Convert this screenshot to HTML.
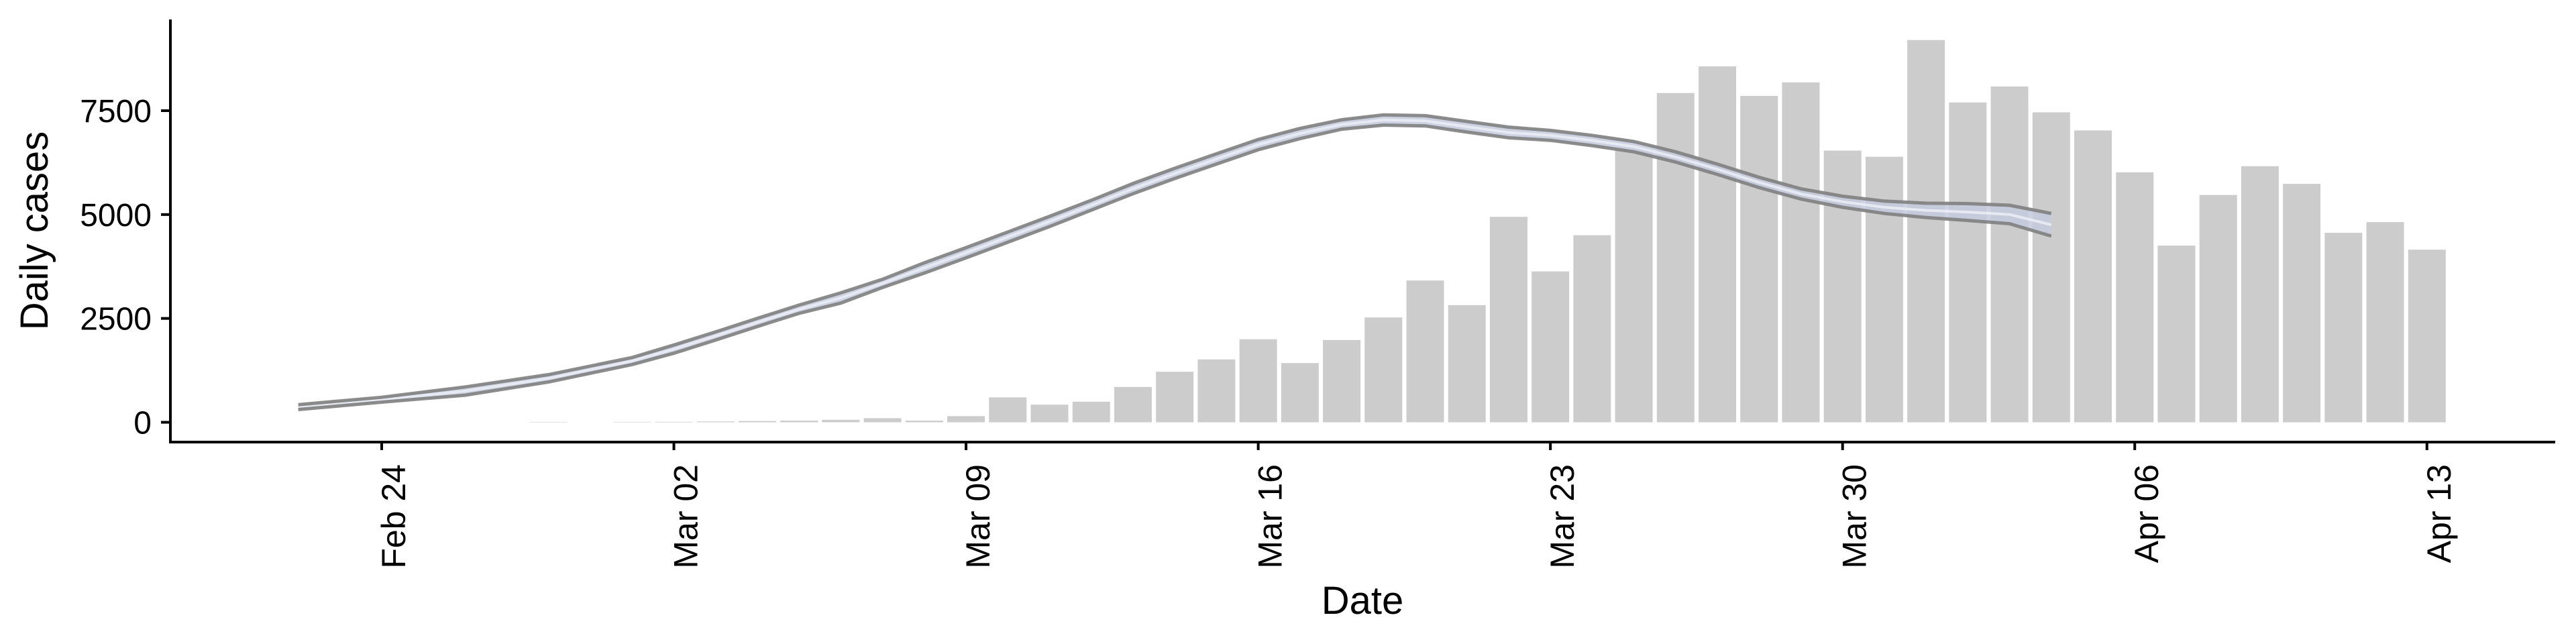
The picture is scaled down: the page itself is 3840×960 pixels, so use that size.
<!DOCTYPE html>
<html><head><meta charset="utf-8"><style>
html,body{margin:0;padding:0;background:#fff;}
svg{display:block;font-family:"Liberation Sans",sans-serif;}
</style></head><body>
<svg id="chart" width="3840" height="960" viewBox="0 0 3840 960" xmlns="http://www.w3.org/2000/svg">
<g id="bars"></g>
<g id="band"></g>
<g id="axes"></g>
</svg>
<script>
const barDates = ["2020-02-28","2020-02-29","2020-03-01","2020-03-02","2020-03-03","2020-03-04","2020-03-05","2020-03-06","2020-03-07","2020-03-08","2020-03-09","2020-03-10","2020-03-11","2020-03-12","2020-03-13","2020-03-14","2020-03-15","2020-03-16","2020-03-17","2020-03-18","2020-03-19","2020-03-20","2020-03-21","2020-03-22","2020-03-23","2020-03-24","2020-03-25","2020-03-26","2020-03-27","2020-03-28","2020-03-29","2020-03-30","2020-03-31","2020-04-01","2020-04-02","2020-04-03","2020-04-04","2020-04-05","2020-04-06","2020-04-07","2020-04-08","2020-04-09","2020-04-10","2020-04-11","2020-04-12","2020-04-13"];
const barValues = [10,0,10,12,20,30,40,60,99,40,148,600,425,495,851,1217,1514,1999,1425,1979,2523,3413,2820,4945,3631,4502,6560,7925,8568,7856,8182,6540,6392,9201,7698,8083,7460,7025,6016,4254,5471,6164,5739,4561,4818,4155];
const curveDates = ["2020-02-22","2020-02-24","2020-02-26","2020-02-28","2020-03-01","2020-03-02","2020-03-03","2020-03-04","2020-03-05","2020-03-06","2020-03-07","2020-03-08","2020-03-09","2020-03-10","2020-03-11","2020-03-12","2020-03-13","2020-03-14","2020-03-15","2020-03-16","2020-03-17","2020-03-18","2020-03-19","2020-03-20","2020-03-21","2020-03-22","2020-03-23","2020-03-24","2020-03-25","2020-03-26","2020-03-27","2020-03-28","2020-03-29","2020-03-30","2020-03-31","2020-04-01","2020-04-02","2020-04-03","2020-04-04"];
const curveUpper = [425,603,851,1148,1560,1860,2177,2503,2820,3117,3443,3839,4205,4581,4957,5343,5748,6115,6461,6807,7074,7282,7400,7380,7242,7104,7025,6906,6758,6510,6214,5897,5620,5442,5323,5274,5264,5224,5026];
const curveLower = [307,485,653,970,1390,1662,1979,2305,2622,2870,3245,3591,3958,4334,4710,5105,5501,5867,6214,6560,6827,7054,7153,7133,6985,6847,6787,6659,6510,6263,5966,5650,5373,5175,5026,4928,4858,4779,4482];
const yTicks = [0,2500,5000,7500];
const xTickDates = ["2020-02-24","2020-03-02","2020-03-09","2020-03-16","2020-03-23","2020-03-30","2020-04-06","2020-04-13"];
const xTickLabels = ["Feb 24","Mar 02","Mar 09","Mar 16","Mar 23","Mar 30","Apr 06","Apr 13"];

const NS="http://www.w3.org/2000/svg";
const DAY=86400000, ORIGIN=Date.UTC(2020,1,24);
function dayIdx(s){const p=s.split("-");return (Date.UTC(+p[0],+p[1]-1,+p[2])-ORIGIN)/DAY;}
function x(s){return 569+dayIdx(s)*62.22;}
function y(v){return 629.5-v*(464.5/7500);}
function el(t,a,parent){const e=document.createElementNS(NS,t);for(const k in a)e.setAttribute(k,a[k]);parent.appendChild(e);return e;}

const gb=document.getElementById("bars");
barDates.forEach((d,i)=>{
  const v=barValues[i]; if(v<=0) return;
  const r=el("rect",{x:x(d)-28,y:y(v),width:56,height:y(0)-y(v),fill:"#cccccc"},gb);
  
  
});

const gband=document.getElementById("band");
const up=curveDates.map((d,i)=>[x(d),y(curveUpper[i])]);
const lo=curveDates.map((d,i)=>[x(d),y(curveLower[i])]);
const mid=curveDates.map((d,i)=>[x(d),y((curveUpper[i]+curveLower[i])/2)]);
const ptsStr=a=>a.map(p=>p[0].toFixed(1)+","+p[1].toFixed(1)).join(" ");
const poly=el("polygon",{points:ptsStr(up.concat(lo.slice().reverse())),fill:"#c3cadd","fill-opacity":"0.85"},gband);


const ml=el("polyline",{points:ptsStr(mid),fill:"none",stroke:"#eef0f6","stroke-width":"4","stroke-opacity":"0.8"},gband);


const ul=el("polyline",{points:ptsStr(up),fill:"none",stroke:"#808080","stroke-width":"5","stroke-opacity":"0.9"},gband);


const ll=el("polyline",{points:ptsStr(lo),fill:"none",stroke:"#808080","stroke-width":"5","stroke-opacity":"0.9"},gband);



const ga=document.getElementById("axes");
const ya=el("line",{x1:254,y1:29,x2:254,y2:661,stroke:"#000","stroke-width":"4"},ga);


const xa=el("line",{x1:252,y1:659,x2:3809,y2:659,stroke:"#000","stroke-width":"4"},ga);


yTicks.forEach(v=>{
  const t=el("line",{x1:240,y1:y(v),x2:254,y2:y(v),stroke:"#000","stroke-width":"4"},ga);
  
  
  const lb=el("text",{x:226,y:y(v)+17,"text-anchor":"end","font-size":"48",fill:"#000"},ga);
  lb.textContent=String(v);
  
  
});
xTickDates.forEach((d,i)=>{
  const xx=x(d);
  const t=el("line",{x1:xx,y1:659,x2:xx,y2:671,stroke:"#000","stroke-width":"4"},ga);
  
  
  const lb=el("text",{transform:"translate("+(xx+35)+",692) rotate(-90)","text-anchor":"end","font-size":"50",fill:"#000"},ga);
  lb.textContent=xTickLabels[i];
  
  
});
const xt=el("text",{x:2031,y:915,"text-anchor":"middle","font-size":"58",fill:"#000"},ga);
xt.textContent="Date";


const yt=el("text",{transform:"translate(71,344) rotate(-90)","text-anchor":"middle","font-size":"58",fill:"#000"},ga);
yt.textContent="Daily cases";


</script>
</body></html>
